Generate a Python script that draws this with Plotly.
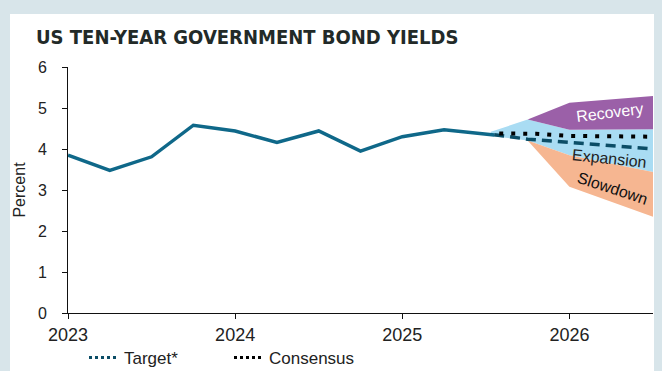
import plotly.graph_objects as go

# ---- data ----
hist_x = [2023.0, 2023.25, 2023.5, 2023.75, 2024.0, 2024.25, 2024.5, 2024.75,
          2025.0, 2025.25, 2025.55]
hist_y = [3.85, 3.48, 3.81, 4.58, 4.44, 4.16, 4.44, 3.95, 4.30, 4.47, 4.34]

target_x = [2025.55, 2025.75, 2026.0, 2026.25, 2026.5]
target_y = [4.35, 4.24, 4.16, 4.08, 4.00]

cons_x = [2025.58, 2025.8, 2026.0, 2026.5]
cons_y = [4.38, 4.37, 4.32, 4.30]

# scenario bands (upper / lower edges)
rec_x = [2025.75, 2026.0, 2026.5]
rec_hi = [4.72, 5.13, 5.29]
rec_lo = [4.72, 4.47, 4.48]

exp_x = [2025.53, 2025.75, 2026.0, 2026.5]
exp_hi = [4.42, 4.72, 4.47, 4.48]
exp_lo = [4.32, 4.21, 3.85, 3.44]

slo_x = [2025.75, 2026.0, 2026.5]
slo_hi = [4.21, 3.85, 3.44]
slo_lo = [4.21, 3.08, 2.35]

x_ticks = [2023, 2024, 2025, 2026]
y_ticks = [0, 1, 2, 3, 4, 5, 6]

COND = "Liberation Sans Narrow, DejaVu Sans Condensed, Roboto, sans-serif"
SANS = "Liberation Sans, Arial, sans-serif"

fig = go.Figure()

def band(xs, hi, lo, color):
    fig.add_trace(go.Scatter(x=xs + xs[::-1], y=hi + lo[::-1], fill="toself",
                             fillcolor=color, line=dict(width=0), mode="lines",
                             showlegend=False, hoverinfo="skip"))

band(exp_x, exp_hi, exp_lo, "#a9dcf3")
band(rec_x, rec_hi, rec_lo, "#9b60a8")
band(slo_x, slo_hi, slo_lo, "#f6b691")

fig.add_trace(go.Scatter(x=hist_x, y=hist_y, mode="lines",
                         line=dict(color="#0f6889", width=3.5), showlegend=False))
fig.add_trace(go.Scatter(x=target_x, y=target_y, mode="lines",
                         line=dict(color="#0b4d66", width=3.5, dash="10px,6px"),
                         showlegend=False))
fig.add_trace(go.Scatter(x=cons_x, y=cons_y, mode="lines",
                         line=dict(color="#000000", width=4, dash="4px,8px"),
                         showlegend=False))
# legend entries
fig.add_trace(go.Scatter(x=[None], y=[None], mode="lines", name="Target*",
                         line=dict(color="#0b4d66", width=3, dash="dot")))
fig.add_trace(go.Scatter(x=[None], y=[None], mode="lines", name="Consensus",
                         line=dict(color="#000000", width=3, dash="dot")))

# band labels
fig.add_annotation(x=2026.24, y=4.9, text="Recovery", showarrow=False,
                   textangle=-7, font=dict(family=SANS, size=16, color="white"))
fig.add_annotation(x=2026.24, y=3.78, text="Expansion", showarrow=False,
                   textangle=6, font=dict(family=SANS, size=16, color="#222222"))
fig.add_annotation(x=2026.26, y=3.03, text="Slowdown", showarrow=False,
                   textangle=18, font=dict(family=SANS, size=16, color="#111111"))

W, H = 662, 371
ml, mr, mt, mb = 68, 9, 67, 58
pw, ph = W - ml - mr, H - mt - mb

# white panel
fig.add_shape(type="rect", xref="paper", yref="paper", layer="below",
              x0=(10 - ml) / pw, x1=(654 - ml) / pw,
              y0=-(mb + 5) / ph, y1=(mt - 14) / ph + 1,
              fillcolor="white", line=dict(width=0))

fig.update_layout(
    width=W, height=H,
    margin=dict(l=ml, r=mr, t=mt, b=mb, autoexpand=False),
    paper_bgcolor="#d8e5ea", plot_bgcolor="white",
    title=dict(text="<b>US TEN-YEAR GOVERNMENT BOND YIELDS</b>",
               x=36 / W, xanchor="left", y=1 - 37 / H, yanchor="middle",
               font=dict(family=COND, size=20, color="#222a28")),
    xaxis=dict(range=[2023, 2026.5], tickvals=x_ticks, ticktext=[str(t) for t in x_ticks],
               showline=True, linecolor="#111", linewidth=1, ticks="outside",
               ticklen=5, tickcolor="#111", showgrid=False, zeroline=False,
               tickfont=dict(family=SANS, size=18, color="#222")),
    yaxis=dict(range=[0, 6], tickvals=y_ticks, showline=True, linecolor="#111",
               linewidth=1, ticks="outside", ticklen=5, tickcolor="#111",
               showgrid=False, zeroline=False, ticklabelstandoff=12,
               tickfont=dict(family=SANS, size=16, color="#222"),
               title=dict(text="Percent", font=dict(family=SANS, size=16, color="#222"),
                          standoff=8)),
    legend=dict(orientation="h", x=(84 - ml) / pw, xanchor="left",
                y=-(358 - 313) / ph, yanchor="middle",
                font=dict(family=SANS, size=17, color="#222"),
                bgcolor="rgba(0,0,0,0)", itemwidth=30, entrywidth=100),
    showlegend=True,
)

fig.write_html("out.html")
